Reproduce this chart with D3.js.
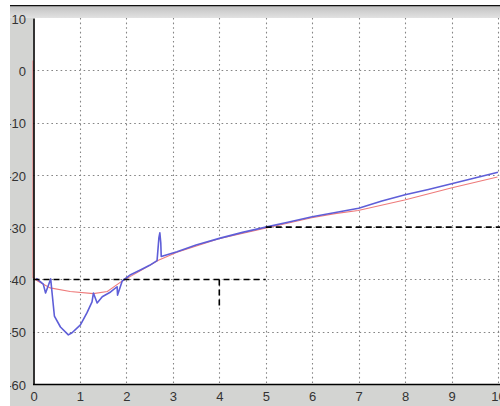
<!DOCTYPE html>
<html>
<head>
<meta charset="utf-8">
<script src="https://cdn.jsdelivr.net/npm/d3@7"></script>
<style>
  html, body { margin: 0; padding: 0; background: #ffffff; }
  svg { display: block; }
  text { font-family: "Liberation Sans", Arial, sans-serif; }
</style>
</head>
<body>
<svg id="chart" width="500" height="406"></svg>
<script>
// Measured response (blue trace)
const measuredX = [0.06, 0.21, 0.26, 0.37, 0.40, 0.45, 0.58, 0.75, 0.83, 1.01, 1.15, 1.26, 1.29, 1.37, 1.48, 1.66, 1.80, 1.81, 1.91, 2.09, 2.30, 2.50, 2.66, 2.70, 2.72, 2.74, 2.75, 3.09, 3.50, 4.02, 4.50, 5.00, 5.50, 6.00, 6.50, 7.00, 7.50, 8.00, 8.50, 9.00, 9.50, 10.00];
const measuredY = [-39.8, -40.9, -42.6, -39.9, -42.6, -47.0, -49.1, -50.6, -50.2, -48.7, -46.4, -44.3, -42.6, -44.5, -43.3, -42.4, -41.4, -43.0, -40.3, -39.1, -38.2, -37.3, -36.4, -32.0, -31.1, -33.0, -35.6, -34.7, -33.4, -32.1, -31.0, -30.0, -29.0, -28.0, -27.2, -26.4, -25.0, -23.8, -22.8, -21.7, -20.6, -19.5];

// Fitted curve (red trace)
const fitX = [0.00, 0.00, 0.10, 0.37, 0.80, 1.30, 1.60, 1.90, 2.30, 2.70, 3.10, 4.00, 5.00, 6.00, 6.50, 7.00, 8.00, 9.00, 10.00];
const fitY = [2.0, -39.5, -40.2, -41.5, -42.2, -42.6, -42.2, -40.3, -38.3, -36.2, -34.7, -32.1, -30.1, -28.1, -27.3, -26.7, -24.7, -22.4, -20.3];

// Axis ticks
const xTicks = [0, 1, 2, 3, 4, 5, 6, 7, 8, 9, 10];
const xTickLabels = ["0", "1", "2", "3", "4", "5", "6", "7", "8", "9", "10"];
const yTicks = [10, 0, -10, -20, -30, -40, -50, -60];
const yTickLabels = ["10", "0", "-10", "-20", "-30", "-40", "-50", "-60"];

// Dashed reference lines (data coordinates)
const refX1 = [0, 5, 4];
const refY1 = [-40, -30, -40];
const refX2 = [5, 10.2, 4];
const refY2 = [-40, -30, -45.5];

// Ranges of the trace where the background under it is blanked, down to a floor value
const blankFrom = [2.88, 5.0];
const blankTo = [4.9, 7.0];
const blankFloor = [-40, -30];

const svg = d3.select("#chart");
const W = 500, H = 406;
const plot = { left: 33, right: 500, top: 18, bottom: 384 };

const x = d3.scaleLinear().domain([0, 10]).range([33.5, 498]);
const y = d3.scaleLinear().domain([-60, 10]).range([384, 18]);

// Figure window cropped on the left and top
svg.append("defs").append("clipPath").attr("id", "fig")
  .append("rect").attr("x", 10).attr("y", 5).attr("width", W - 10).attr("height", H - 5);

const grad = svg.select("defs").append("linearGradient")
  .attr("id", "band").attr("x1", 0).attr("y1", 0).attr("x2", 0).attr("y2", 1);
grad.append("stop").attr("offset", "0%").attr("stop-color", "#bfbfbf");
grad.append("stop").attr("offset", "100%").attr("stop-color", "#e2e2e2");

const fig = svg.append("g").attr("clip-path", "url(#fig)");

fig.append("rect").attr("x", 0).attr("y", 0).attr("width", W).attr("height", H).attr("fill", "#d3d4d2");
fig.append("rect").attr("x", 10).attr("y", 5).attr("width", W).attr("height", plot.top - 5).attr("fill", "url(#band)");
fig.append("line").attr("x1", 10).attr("x2", W).attr("y1", 5.5).attr("y2", 5.5)
  .attr("stroke", "#111").attr("stroke-width", 1.5);

// Plot area
fig.append("rect")
  .attr("x", plot.left).attr("y", plot.top)
  .attr("width", plot.right - plot.left).attr("height", plot.bottom - plot.top)
  .attr("fill", "#ffffff");

// Dotted grid
const grid = fig.append("g").attr("stroke", "#858585").attr("stroke-width", 1.1)
  .attr("stroke-dasharray", "1.6,3").attr("fill", "none");
grid.selectAll("line.gx").data(xTicks.filter(d => d > 0)).join("line")
  .attr("class", "gx")
  .attr("x1", d => Math.round(x(d)) + 0.5).attr("x2", d => Math.round(x(d)) + 0.5)
  .attr("y1", plot.top).attr("y2", plot.bottom);
grid.selectAll("line.gy").data(yTicks.filter(d => d < 10 && d > -60)).join("line")
  .attr("class", "gy")
  .attr("y1", d => Math.round(y(d)) + 0.5).attr("y2", d => Math.round(y(d)) + 0.5)
  .attr("x1", plot.left).attr("x2", plot.right);

const measured = measuredX.map((v, i) => [v, measuredY[i]]);
const fit = fitX.map((v, i) => [v, fitY[i]]);

// Blanked background under parts of the trace
blankFrom.forEach((a, i) => {
  const seg = measured.filter(p => p[0] >= a && p[0] <= blankTo[i]);
  const area = d3.area().x(p => x(p[0])).y0(y(blankFloor[i])).y1(p => y(p[1]) + 1);
  fig.append("path").datum(seg).attr("d", area).attr("fill", "#ffffff");
});

const line = d3.line().x(p => x(p[0])).y(p => y(p[1]));

fig.append("path").datum(fit).attr("d", line)
  .attr("fill", "none").attr("stroke", "#ee7a7a").attr("stroke-width", 1.1)
  .attr("transform", "translate(-0.5,0.6)");

fig.append("path").datum(measured).attr("d", line)
  .attr("fill", "none").attr("stroke", "#5e5ed8").attr("stroke-width", 1.6)
  .attr("stroke-linejoin", "round");

// Reference lines
fig.append("g").selectAll("line").data(refX1).join("line")
  .attr("x1", (d, i) => x(refX1[i])).attr("y1", (d, i) => y(refY1[i]))
  .attr("x2", (d, i) => x(refX2[i])).attr("y2", (d, i) => y(refY2[i]))
  .attr("stroke", "#000").attr("stroke-width", 1.6).attr("stroke-dasharray", "6,4");

// Axes
const yAxis = d3.axisLeft(y).tickValues(yTicks).tickSize(0).tickPadding(7.5)
  .tickFormat((d, i) => yTickLabels[i]);
const gy = fig.append("g").attr("transform", `translate(${plot.left + 0.5},0)`).call(yAxis);
gy.select(".domain").attr("stroke", "#000").attr("stroke-width", 1.6);
gy.selectAll("text").attr("font-size", 13).attr("fill", "#333").attr("dy", "0.4em");

const xAxis = d3.axisBottom(x).tickValues(xTicks).tickSize(0).tickPadding(8)
  .tickFormat((d, i) => xTickLabels[i]);
const gx = fig.append("g").attr("transform", `translate(0,${plot.bottom})`).call(xAxis);
gx.select(".domain").attr("stroke", "#000").attr("stroke-width", 1.6)
  .attr("d", `M${plot.left},0.5H${plot.right}`);
gx.selectAll("text").attr("font-size", 13).attr("fill", "#333");
</script>
</body>
</html>
